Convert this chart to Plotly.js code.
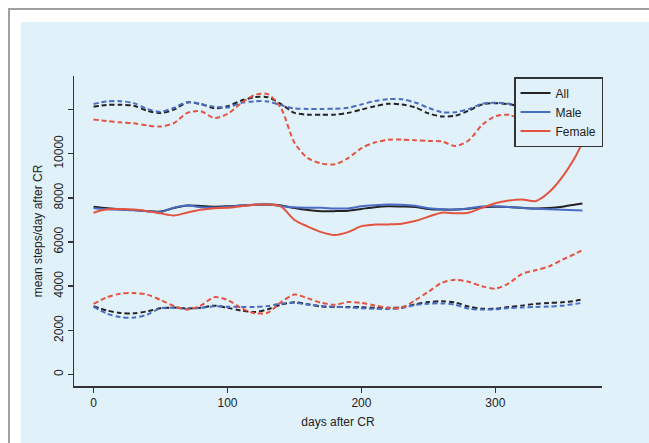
<!DOCTYPE html>
<html>
<head>
<meta charset="utf-8">
<script src="https://cdn.plot.ly/plotly-3.0.1.min.js"></script>
<style>
  html, body { margin: 0; padding: 0; background: #ffffff; }
  #chart { width: 649px; height: 443px; }
</style>
</head>
<body>
<div id="chart"></div>
<script>
// Days after CR (common grid)
const days = [0,10,20,30,40,50,60,70,80,90,100,110,120,130,140,150,160,170,180,190,200,210,220,230,240,250,260,270,280,290,300,310,320,330,340,350,360,365];

// Mean steps/day (solid lines)
const allMean    = [7600,7530,7480,7450,7400,7380,7540,7650,7630,7600,7620,7650,7690,7700,7660,7540,7450,7400,7400,7420,7500,7580,7620,7610,7590,7500,7470,7470,7510,7580,7600,7590,7550,7520,7540,7600,7700,7750];
const maleMean   = [7530,7490,7460,7440,7400,7360,7560,7650,7580,7560,7600,7650,7690,7700,7630,7570,7550,7550,7520,7520,7620,7670,7700,7690,7640,7530,7480,7470,7530,7610,7620,7590,7540,7510,7480,7460,7440,7430];
const femaleMean = [7330,7480,7500,7470,7400,7300,7200,7340,7460,7530,7550,7620,7690,7700,7600,7000,6700,6450,6320,6450,6720,6790,6800,6830,6950,7150,7330,7300,7330,7550,7760,7880,7930,7850,8250,8950,9900,10500];

// Upper bounds (dashed)
const allUpper    = [12130,12210,12220,12170,11950,11840,12000,12320,12250,12060,12150,12400,12560,12560,12250,11850,11770,11760,11770,11850,12000,12150,12260,12230,12100,11830,11690,11720,11950,12230,12290,12240,12120,12000,11950,12000,12150,12250];
const maleUpper   = [12250,12370,12380,12290,12030,11900,12080,12340,12250,12130,12090,12300,12370,12370,12200,12050,12030,12030,12040,12080,12230,12390,12470,12470,12320,12080,11880,11880,12020,12260,12310,12260,12120,11980,11900,11850,11850,11850];
const femaleUpper = [11550,11480,11420,11380,11280,11230,11390,11850,11930,11620,11800,12280,12650,12700,12050,10500,9800,9560,9520,9800,10250,10510,10630,10640,10610,10580,10560,10350,10600,11300,11700,11760,11500,11050,11300,12000,12800,13200];

// Lower bounds (dashed)
const allLower    = [3100,2900,2790,2770,2860,3000,3030,2990,3020,3120,3020,2900,2830,2950,3170,3270,3180,3080,3060,3060,3050,3020,3020,3050,3180,3280,3320,3260,3080,2980,2980,3060,3120,3200,3240,3270,3340,3400];
const maleLower   = [3070,2760,2600,2580,2710,3000,3020,2980,3020,3090,3070,3060,3060,3100,3210,3250,3170,3100,3070,3040,3000,2980,2970,3010,3150,3210,3220,3160,2980,2940,2950,3010,3040,3060,3080,3120,3200,3250];
const femaleLower = [3200,3500,3660,3690,3620,3380,3100,2950,3120,3500,3380,3020,2780,2800,3280,3620,3450,3250,3160,3280,3240,3130,3020,3030,3360,3750,4150,4290,4200,4000,3890,4130,4560,4720,4900,5200,5480,5630];

// Series names and tick labels
const seriesNames = ["All", "Male", "Female"];
const xTickVals = [0, 100, 200, 300];
const yTickVals = [0, 2000, 4000, 6000, 8000, 10000, 12000];
const yTickText = ["0", "2000", "4000", "6000", "8000", "10000", ""];

const colors = ["#232323", "#4a6cc2", "#e4533f"];
const panelColor = "#e1f1f9";
const means  = [allMean, maleMean, femaleMean];
const uppers = [allUpper, maleUpper, femaleUpper];
const lowers = [allLower, maleLower, femaleLower];

const traces = [];
for (let i = 0; i < 3; i++) {
  const dashLine = {color: colors[i], width: 2, dash: "5px,3px", shape: "spline", smoothing: 0.8};
  traces.push({x: days, y: uppers[i], mode: "lines", line: dashLine, showlegend: false, hoverinfo: "skip"});
  traces.push({x: days, y: lowers[i], mode: "lines", line: dashLine, showlegend: false, hoverinfo: "skip"});
  traces.push({x: days, y: means[i], mode: "lines", name: seriesNames[i],
               line: {color: colors[i], width: 2, shape: "spline", smoothing: 0.8}, hoverinfo: "skip"});
}
// legend order: All, Male, Female
traces.forEach((t, k) => { t.legendrank = k; });

const fontFam = "Liberation Sans, Arial, sans-serif";
const L = 74, R = 47, T = 76, B = 57;
const W = 649 - L - R, H = 443 - T - B;
const px = v => (v - L) / W;
const py = v => 1 - (v - T) / H;

const layout = {
  width: 649, height: 443,
  margin: {l: L, r: R, t: T, b: B, pad: 0},
  paper_bgcolor: "#ffffff",
  plot_bgcolor: "rgba(0,0,0,0)",
  font: {family: fontFam, size: 12, color: "#222222"},
  showlegend: true,
  legend: {
    x: px(603), y: py(77), xanchor: "right", yanchor: "top",
    bgcolor: panelColor, bordercolor: "#333333", borderwidth: 1.5,
    font: {family: fontFam, size: 12, color: "#222222"},
    itemwidth: 30, traceorder: "normal"
  },
  xaxis: {
    range: [-14.6, 379.6], showgrid: false, zeroline: false,
    showline: true, linecolor: "#333333", linewidth: 1.5,
    ticks: "outside", ticklen: 5, tickwidth: 1.5, tickcolor: "#333333",
    tickvals: xTickVals, ticktext: xTickVals.map(String),
    tickfont: {family: fontFam, size: 12, color: "#222222"},
    title: {text: "days after CR", font: {family: fontFam, size: 12, color: "#222222"}, standoff: 8}
  },
  yaxis: {
    range: [-520, 13520], showgrid: false, zeroline: false,
    showline: true, linecolor: "#333333", linewidth: 1.5,
    ticks: "outside", ticklen: 5, tickwidth: 1.5, tickcolor: "#333333",
    tickvals: yTickVals, ticktext: yTickText, tickangle: -90,
    tickfont: {family: fontFam, size: 12, color: "#222222"},
    title: {text: "mean steps/day after CR", font: {family: fontFam, size: 12, color: "#222222"}, standoff: 6}
  },
  shapes: [
    {type: "rect", xref: "paper", yref: "paper", layer: "below",
     x0: px(21), x1: px(720), y0: py(520), y1: py(22),
     fillcolor: panelColor, line: {width: 0}},
    {type: "rect", xref: "paper", yref: "paper", layer: "below",
     x0: px(9), x1: px(720), y0: py(520), y1: py(9),
     fillcolor: "rgba(0,0,0,0)", line: {color: "#a0a0a0", width: 2}}
  ]
};

Plotly.newPlot("chart", traces, layout, {displayModeBar: false, staticPlot: true});
</script>
</body>
</html>
